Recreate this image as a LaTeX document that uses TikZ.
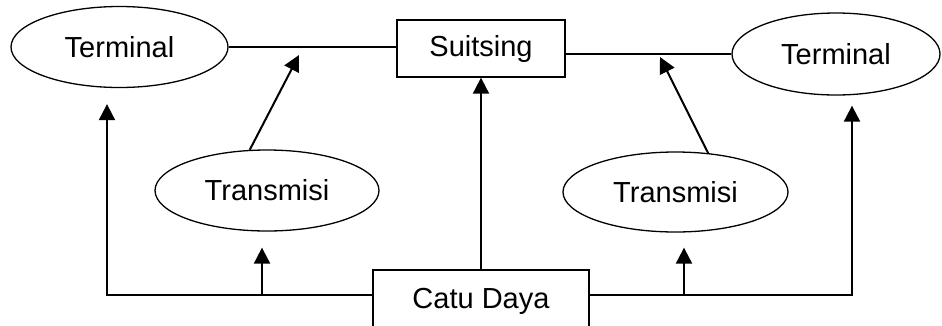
\documentclass[tikz,border=0pt]{standalone}
\usepackage{fontspec}
\setmainfont{Liberation Sans}
\usepackage{tikz}
\usetikzlibrary{arrows.meta}
\usetikzlibrary{positioning,shapes.geometric}

\begin{document}
\begin{tikzpicture}[
x=1pt, y=-1pt,
MyEllipses/.style={draw,ellipse,line width=1.3pt,inner sep=0pt},
MyBoxes/.style={draw,rectangle,line width=1.3pt,inner sep=0pt},
Lines/.style={line width=1.5pt},
Arrows/.style={line width=2pt,-{Triangle[length=16pt, width=16pt]}},
every node/.style={font=\fontsize{29}{34}\selectfont}
]
\useasboundingbox (0,0) rectangle (942,325);
\clip (0,0) rectangle (942,325);

% top row
\node[MyEllipses, minimum width=217pt, minimum height=81pt] (TermL) at (119.5,47) {Terminal};
\node[MyBoxes, minimum width=168pt, minimum height=57pt] (Suit) at (481,48.5) {Suitsing};
\node[MyEllipses, minimum width=208pt, minimum height=82pt] (TermR) at (836,54) {Terminal};

% middle row
\node[MyEllipses, minimum width=224pt, minimum height=81pt] (TransL) at (267,190.5) {Transmisi};
\node[MyEllipses, minimum width=225pt, minimum height=80pt] (TransR) at (675.5,192) {Transmisi};

% power supply, its lower edge falls outside the picture
\node[MyBoxes, minimum width=216pt, minimum height=62pt] (Catu) at (481,301) {Catu Daya};

\coordinate (BL) at (107,295);
\coordinate (BR) at (852,295);
\coordinate (SL) at (262,295);
\coordinate (SR) at (684,295);
\coordinate (TipL) at (299,55);
\coordinate (TipR) at (660,57);

\draw[Lines] (TermL.east) -- (TermL.east -| Suit.west);
\draw[Lines] (Suit.east |- TermR.west) -- (TermR.west);

\draw[Arrows] (TransL.113) -- (TipL);
\draw[Arrows] (TransR.50) -- (TipR);

\draw[Arrows] (Catu.north) -- (Suit.south);

\draw[Arrows, shorten >=16pt] (Catu.west |- BL) -- (BL) -- (BL |- TermL.south);
\draw[Arrows, shorten >=10pt] (Catu.east |- BR) -- (BR) -- (BR |- TermR.south);

\draw[Arrows, shorten >=16pt] (SL) -- (SL |- TransL.south);
\draw[Arrows, shorten >=15pt] (SR) -- (SR |- TransR.south);

\end{tikzpicture}
\end{document}
